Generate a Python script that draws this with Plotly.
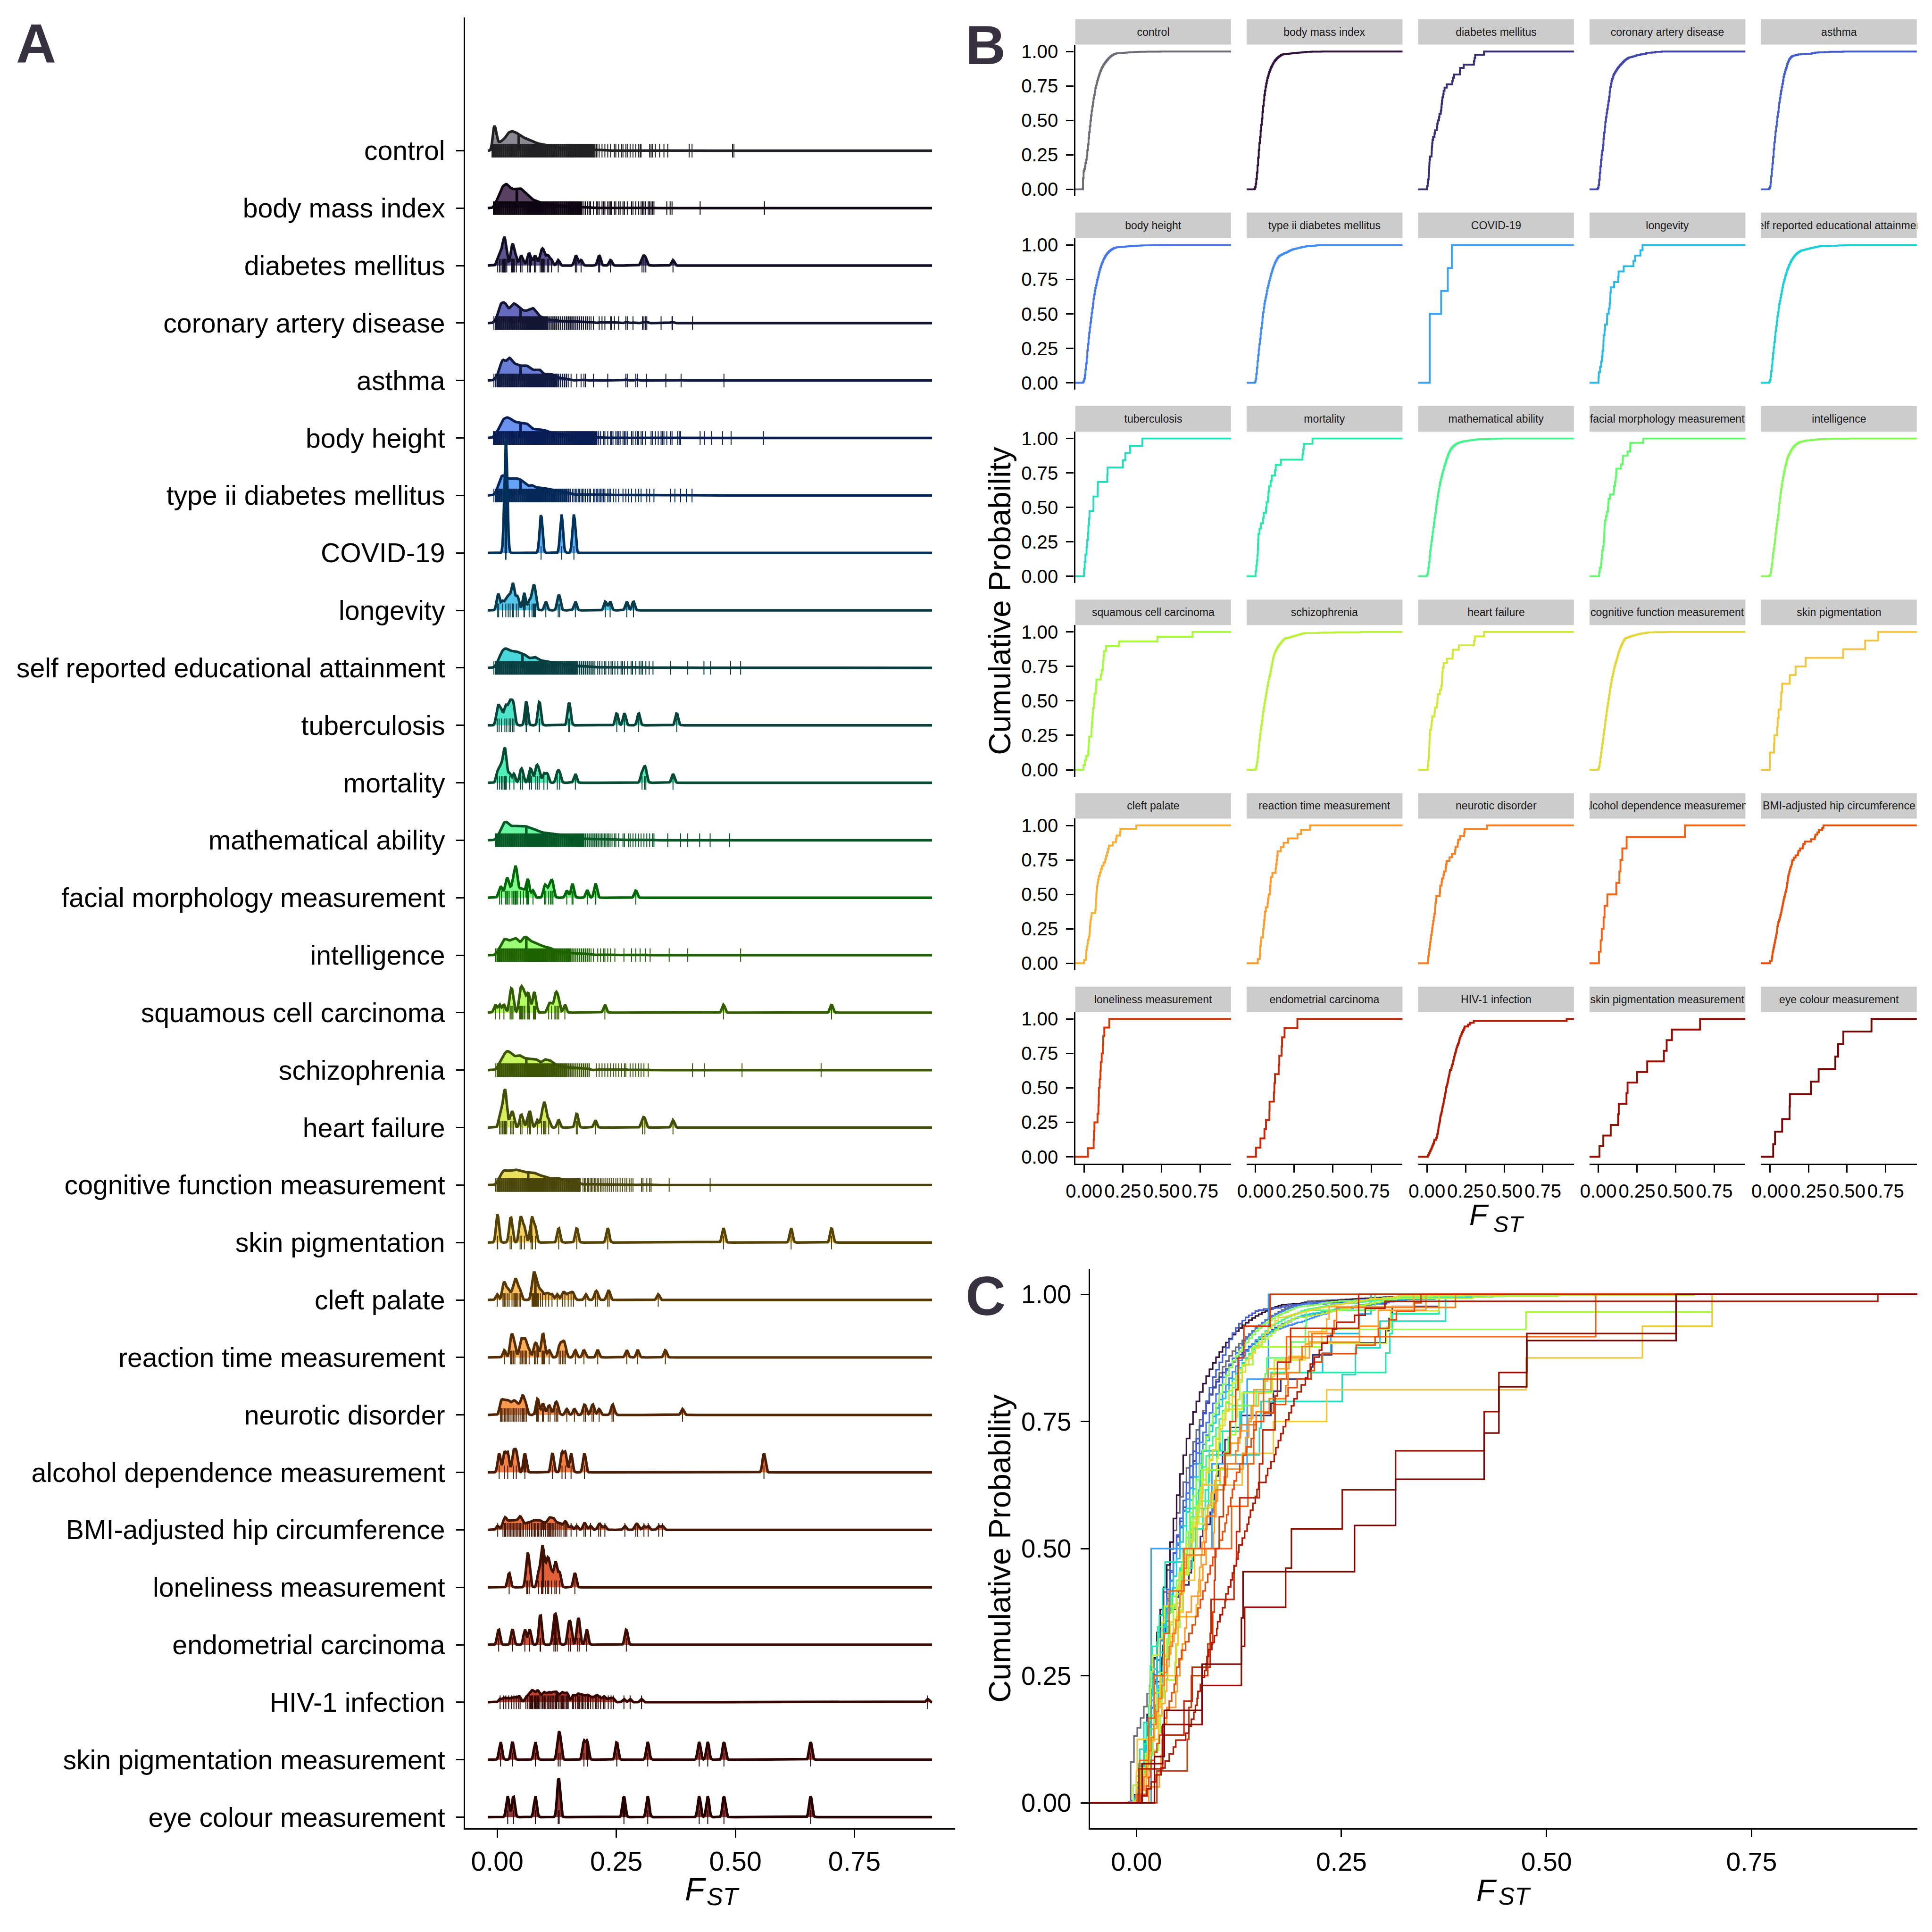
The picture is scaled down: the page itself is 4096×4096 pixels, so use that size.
import colorsys
import numpy as np
import plotly.graph_objects as go

# =============================== DATA ===============================
TRAITS = [
    "control", "body mass index", "diabetes mellitus", "coronary artery disease",
    "asthma", "body height", "type ii diabetes mellitus", "COVID-19", "longevity",
    "self reported educational attainment", "tuberculosis", "mortality",
    "mathematical ability", "facial morphology measurement", "intelligence",
    "squamous cell carcinoma", "schizophrenia", "heart failure",
    "cognitive function measurement", "skin pigmentation", "cleft palate",
    "reaction time measurement", "neurotic disorder", "alcohol dependence measurement",
    "BMI-adjusted hip circumference", "loneliness measurement", "endometrial carcinoma",
    "HIV-1 infection", "skin pigmentation measurement", "eye colour measurement",
]

# shared FST bins for the large traits (counts per bin below)
bin_fst = [-0.007, -0.003, 0.001, 0.005, 0.009, 0.013, 0.017, 0.021, 0.025, 0.029,
           0.033, 0.037, 0.041, 0.045, 0.049, 0.053, 0.057, 0.061, 0.065, 0.069,
           0.073, 0.077, 0.081, 0.085, 0.089, 0.093, 0.097, 0.101, 0.105, 0.109,
           0.113, 0.117, 0.121, 0.125, 0.129, 0.133, 0.137, 0.141, 0.145, 0.149,
           0.153, 0.157, 0.161, 0.165, 0.169, 0.173, 0.177, 0.181, 0.185, 0.189,
           0.193, 0.197, 0.201, 0.205, 0.209]

control_bin_n = [170, 110, 35, 42, 48, 55, 62, 85, 92, 96,
                 96, 93, 88, 80, 74, 68, 63, 60, 57, 54,
                 50, 44, 38, 36, 34, 32, 30, 28, 26, 24,
                 22, 20, 17, 15, 14, 14, 13, 13, 12, 12,
                 11, 11, 10, 9, 9, 8, 7, 7, 6, 5,
                 5, 4, 4, 3, 3]
control_tail = [-0.011, -0.010, -0.009, 0.214, 0.220, 0.226, 0.232, 0.238, 0.246, 0.249,
                0.255, 0.261, 0.264, 0.270, 0.273, 0.279, 0.285, 0.291, 0.297, 0.300,
                0.302, 0.320, 0.323, 0.326, 0.332, 0.341, 0.350, 0.358, 0.403, 0.409,
                0.494, 0.497]

bmi_bin_n = [8, 24, 48, 72, 92, 104, 112, 112, 100, 90,
             88, 88, 90, 93, 92, 84, 74, 66, 56, 48,
             42, 37, 33, 30, 27, 25, 22, 21, 19, 18,
             16, 15, 14, 12, 11, 10, 10, 9, 8, 7,
             7, 6, 6, 5, 5, 4, 4, 0, 0, 0,
             0, 0, 0, 0, 0]
bmi_tail = [0.182, 0.185, 0.190, 0.193, 0.196, 0.202, 0.208, 0.211, 0.214, 0.220,
            0.223, 0.226, 0.232, 0.235, 0.238, 0.240, 0.246, 0.249, 0.255, 0.258,
            0.264, 0.267, 0.273, 0.282, 0.285, 0.291, 0.297, 0.302, 0.305, 0.308,
            0.311, 0.317, 0.320, 0.323, 0.326, 0.329, 0.356, 0.363, 0.367, 0.426, 0.561]

cad_bin_n = [1, 4, 8, 17, 21, 20, 21, 16, 13, 17,
             20, 19, 18, 16, 14, 13, 12, 12, 13, 14,
             15, 15, 11, 8, 7, 6, 5, 4, 4, 3,
             3, 3, 3, 3, 2, 2, 3, 2, 2, 2,
             2, 2, 2, 2, 2, 1, 2, 1, 1, 2,
             1, 1, 0, 0, 0]
cad_tail = [0.202, 0.214, 0.220, 0.226, 0.238, 0.240, 0.246, 0.255, 0.270, 0.273,
            0.285, 0.305, 0.308, 0.311, 0.314, 0.344, 0.367, 0.368, 0.410]

asthma_bin_n = [1, 3, 6, 14, 22, 25, 20, 23, 27, 24,
                20, 19, 18, 17, 17, 16, 17, 17, 16, 14,
                12, 12, 12, 12, 13, 10, 7, 7, 7, 7,
                8, 6, 5, 4, 3, 3, 2, 2, 2, 1]
asthma_tail = [0.155, 0.167, 0.176, 0.182, 0.185, 0.202, 0.232, 0.270, 0.273, 0.291,
               0.294, 0.313, 0.354, 0.386, 0.476]

height_bin_n = [11, 25, 40, 70, 97, 110, 118, 121, 118, 110,
                100, 95, 92, 89, 87, 86, 86, 86, 80, 65,
                55, 52, 50, 49, 48, 48, 47, 44, 38, 35,
                31, 29, 27, 25, 23, 21, 19, 18, 16, 15,
                13, 12, 11, 10, 9, 8, 8, 7, 6, 6,
                5, 5, 4, 4, 3]
height_tail = [0.213, 0.217, 0.223, 0.226, 0.232, 0.238, 0.240, 0.243, 0.249, 0.252,
               0.255, 0.258, 0.264, 0.267, 0.270, 0.273, 0.282, 0.285, 0.291, 0.294,
               0.297, 0.302, 0.305, 0.311, 0.323, 0.326, 0.332, 0.338, 0.344, 0.347,
               0.350, 0.356, 0.364, 0.367, 0.379, 0.382, 0.385, 0.426, 0.435, 0.450,
               0.473, 0.491, 0.559]

t2d_bin_n = [1, 4, 10, 20, 25, 26, 24, 22, 21, 21,
             21, 22, 21, 21, 20, 18, 16, 13, 12, 12,
             14, 11, 10, 10, 10, 10, 9, 9, 8, 8,
             7, 7, 6, 6, 5, 5, 4, 4, 4, 3,
             3]
t2d_tail = [0.158, 0.161, 0.164, 0.167, 0.170, 0.173, 0.176, 0.179, 0.182, 0.185,
            0.190, 0.193, 0.196, 0.202, 0.205, 0.208, 0.211, 0.214, 0.217, 0.220,
            0.223, 0.226, 0.232, 0.235, 0.238, 0.244, 0.249, 0.255, 0.264, 0.270,
            0.276, 0.282, 0.291, 0.297, 0.302, 0.314, 0.320, 0.329, 0.364, 0.373,
            0.385, 0.397, 0.409]

edu_bin_n = [1, 4, 10, 19, 27, 31, 33, 32, 30, 28,
             28, 28, 27, 26, 25, 24, 23, 20, 17, 16,
             17, 19, 18, 15, 13, 12, 12, 12, 11, 10,
             9, 9, 8, 8, 7, 7, 6, 6, 5, 5,
             5, 4, 4, 4, 3, 3, 3, 3, 2, 2,
             2, 2, 2, 1, 0]
edu_tail = [0.211, 0.215, 0.220, 0.225, 0.228, 0.234, 0.239, 0.242, 0.247, 0.253,
            0.260, 0.263, 0.267, 0.274, 0.281, 0.284, 0.291, 0.298, 0.302, 0.305,
            0.312, 0.319, 0.327, 0.364, 0.400, 0.434, 0.448, 0.490, 0.511]

math_bin_n = [0, 4, 10, 20, 34, 44, 48, 46, 40, 36,
              36, 37, 37, 37, 37, 37, 37, 35, 33, 32,
              31, 30, 27, 24, 22, 20, 19, 19, 18, 17,
              17, 16, 16, 16, 15, 14, 13, 12, 11, 10,
              9, 7, 6, 5, 5, 4, 4, 4, 3, 3,
              3, 3, 3, 2, 2]
math_tail = [0.213, 0.216, 0.219, 0.222, 0.225, 0.228, 0.231, 0.234, 0.237, 0.241,
             0.246, 0.249, 0.255, 0.264, 0.267, 0.276, 0.279, 0.285, 0.291, 0.297,
             0.302, 0.308, 0.314, 0.320, 0.326, 0.329, 0.358, 0.385, 0.400, 0.425,
             0.447, 0.488]

iq_bin_n = [0, 2, 6, 12, 19, 25, 27, 25, 23, 24,
            26, 28, 27, 22, 20, 25, 30, 30, 26, 23,
            22, 21, 20, 18, 17, 15, 14, 13, 13, 12,
            11, 9, 7, 6, 6, 6, 6, 5, 5, 4,
            4, 3, 3, 3, 3, 2, 2, 2, 2, 2,
            2, 1, 0, 0, 0]
iq_tail = [0.202, 0.211, 0.217, 0.223, 0.226, 0.232, 0.238, 0.247, 0.266, 0.282,
           0.291, 0.300, 0.311, 0.321, 0.361, 0.400, 0.511]

scz_bin_n = [0, 1, 4, 9, 14, 17, 21, 23, 22, 20,
             18, 16, 17, 18, 17, 15, 14, 14, 13, 13,
             13, 13, 13, 12, 9, 9, 12, 13, 12, 12,
             11, 8, 7, 6, 5, 5, 4, 4, 4, 3,
             3, 3, 3, 3, 3, 3, 2, 2, 2, 2,
             2, 0, 0, 0, 0]
scz_tail = [0.208, 0.214, 0.220, 0.226, 0.232, 0.238, 0.244, 0.249, 0.255, 0.261,
            0.267, 0.270, 0.279, 0.285, 0.291, 0.297, 0.302, 0.308, 0.317, 0.410,
            0.435, 0.514, 0.680]

cog_bin_n = [0, 2, 7, 13, 22, 27, 27, 26, 26, 26,
             27, 28, 28, 27, 25, 25, 24, 23, 23, 23,
             23, 23, 21, 19, 18, 17, 16, 16, 15, 13,
             11, 12, 13, 13, 12, 11, 10, 9, 8, 8,
             8, 7, 7, 6, 6, 5, 0, 0, 0, 0,
             0, 0, 0, 0, 0]
cog_tail = [0.180, 0.183, 0.186, 0.189, 0.192, 0.195, 0.198, 0.201, 0.204, 0.207,
            0.210, 0.213, 0.217, 0.220, 0.224, 0.228, 0.232, 0.236, 0.240, 0.244,
            0.249, 0.253, 0.258, 0.263, 0.268, 0.272, 0.277, 0.281, 0.285, 0.303,
            0.306, 0.314, 0.320, 0.323, 0.361, 0.447]

diabetes_fst = [0.001, 0.005, 0.008, 0.011, 0.013, 0.014, 0.015, 0.016, 0.017, 0.020,
                0.030, 0.031, 0.032, 0.034, 0.036, 0.040, 0.049, 0.052, 0.064, 0.067,
                0.070, 0.078, 0.081, 0.090, 0.093, 0.095, 0.097, 0.100, 0.105, 0.108,
                0.114, 0.128, 0.164, 0.167, 0.176, 0.213, 0.215, 0.238, 0.304, 0.308,
                0.312, 0.369]
covid_fst = [0.018, 0.018, 0.018, 0.092, 0.135, 0.161]
longevity_fst = [0.001, 0.003, 0.011, 0.018, 0.023, 0.027, 0.032, 0.033, 0.034, 0.040,
                 0.044, 0.056, 0.057, 0.067, 0.073, 0.076, 0.078, 0.080, 0.102, 0.128,
                 0.131, 0.164, 0.227, 0.237, 0.272, 0.286]
tb_fst = [0.000, 0.004, 0.009, 0.016, 0.020, 0.025, 0.028, 0.032, 0.035, 0.061,
          0.061, 0.088, 0.089, 0.150, 0.152, 0.251, 0.267, 0.297, 0.377]
mortality_fst = [0.0005, 0.005, 0.009, 0.012, 0.015, 0.016, 0.017, 0.019, 0.026, 0.035,
                 0.049, 0.053, 0.068, 0.072, 0.081, 0.084, 0.088, 0.098, 0.105, 0.126,
                 0.131, 0.164, 0.304, 0.309, 0.312, 0.369]
facial_fst = [0.005, 0.009, 0.017, 0.020, 0.022, 0.025, 0.031, 0.034, 0.037, 0.038,
              0.039, 0.040, 0.043, 0.049, 0.055, 0.062, 0.064, 0.066, 0.075, 0.099,
              0.102, 0.108, 0.112, 0.115, 0.117, 0.146, 0.157, 0.159, 0.189, 0.206,
              0.207, 0.291]
squamous_fst = [-0.004, 0.005, 0.014, 0.027, 0.029, 0.031, 0.033, 0.047, 0.049, 0.051,
                0.053, 0.056, 0.058, 0.063, 0.065, 0.068, 0.076, 0.078, 0.080, 0.108,
                0.114, 0.121, 0.123, 0.126, 0.129, 0.142, 0.226, 0.475, 0.702]
heart_fst = [0.005, 0.008, 0.011, 0.014, 0.015, 0.016, 0.017, 0.018, 0.020, 0.028,
             0.031, 0.034, 0.049, 0.052, 0.064, 0.068, 0.070, 0.084, 0.093, 0.097,
             0.098, 0.100, 0.102, 0.108, 0.129, 0.166, 0.168, 0.206, 0.305, 0.310, 0.369]
skinpig_fst = [0.000, 0.001, 0.027, 0.030, 0.048, 0.051, 0.057, 0.071, 0.074, 0.080,
               0.129, 0.167, 0.232, 0.475, 0.617, 0.702]
cleft_fst = [0.000, 0.012, 0.014, 0.015, 0.018, 0.022, 0.025, 0.031, 0.035, 0.037,
             0.038, 0.040, 0.042, 0.046, 0.049, 0.073, 0.075, 0.076, 0.077, 0.079,
             0.080, 0.082, 0.084, 0.087, 0.091, 0.095, 0.102, 0.108, 0.115, 0.126,
             0.137, 0.142, 0.149, 0.155, 0.160, 0.186, 0.206, 0.210, 0.232, 0.235, 0.338]
reaction_fst = [0.015, 0.028, 0.030, 0.031, 0.034, 0.037, 0.048, 0.050, 0.053, 0.056,
                0.059, 0.061, 0.067, 0.078, 0.081, 0.085, 0.094, 0.095, 0.097, 0.099,
                0.109, 0.130, 0.133, 0.137, 0.140, 0.143, 0.164, 0.182, 0.211, 0.272,
                0.295, 0.353]
neurotic_fst = [0.007, 0.009, 0.012, 0.015, 0.018, 0.021, 0.024, 0.027, 0.031, 0.034,
                0.037, 0.040, 0.044, 0.048, 0.052, 0.053, 0.055, 0.058, 0.061, 0.083,
                0.085, 0.086, 0.095, 0.097, 0.107, 0.111, 0.121, 0.124, 0.127, 0.146,
                0.162, 0.182, 0.185, 0.199, 0.202, 0.214, 0.241, 0.244, 0.389]
alcohol_fst = [0.004, 0.015, 0.022, 0.034, 0.040, 0.058, 0.116, 0.136, 0.143, 0.155,
               0.183, 0.560]
hip_fst = [0.001, 0.012, 0.015, 0.017, 0.018, 0.022, 0.025, 0.028, 0.031, 0.034,
           0.037, 0.040, 0.043, 0.046, 0.048, 0.049, 0.052, 0.055, 0.060, 0.064,
           0.068, 0.072, 0.075, 0.078, 0.081, 0.084, 0.087, 0.090, 0.093, 0.097,
           0.101, 0.105, 0.108, 0.110, 0.112, 0.115, 0.117, 0.119, 0.122, 0.126,
           0.130, 0.134, 0.140, 0.143, 0.146, 0.155, 0.167, 0.182, 0.185, 0.196,
           0.213, 0.217, 0.226, 0.268, 0.291, 0.295, 0.308, 0.317, 0.339, 0.347]
lonely_fst = [0.025, 0.062, 0.064, 0.067, 0.087, 0.093, 0.095, 0.096, 0.101, 0.106,
              0.108, 0.114, 0.121, 0.124, 0.131, 0.163]
endometrial_fst = [0.003, 0.032, 0.058, 0.068, 0.090, 0.091, 0.119, 0.122, 0.126, 0.150,
                   0.154, 0.169, 0.172, 0.188, 0.271]
hiv_fst = [0.006, 0.013, 0.018, 0.024, 0.030, 0.035, 0.040, 0.045, 0.048, 0.060,
           0.064, 0.067, 0.070, 0.072, 0.074, 0.075, 0.078, 0.080, 0.083, 0.085,
           0.086, 0.088, 0.092, 0.095, 0.098, 0.099, 0.102, 0.105, 0.108, 0.109,
           0.112, 0.115, 0.117, 0.119, 0.122, 0.124, 0.125, 0.129, 0.132, 0.135,
           0.137, 0.139, 0.142, 0.145, 0.147, 0.149, 0.158, 0.160, 0.164, 0.168,
           0.170, 0.173, 0.176, 0.179, 0.182, 0.186, 0.189, 0.192, 0.196, 0.201,
           0.206, 0.209, 0.212, 0.217, 0.223, 0.226, 0.233, 0.239, 0.244, 0.266,
           0.279, 0.303, 0.904]
skinmeas_fst = [0.007, 0.032, 0.080, 0.128, 0.132, 0.182, 0.189, 0.251, 0.316, 0.424,
                0.442, 0.476, 0.658]
eye_fst = [0.022, 0.034, 0.080, 0.128, 0.130, 0.266, 0.316, 0.424, 0.442, 0.476, 0.658]


def big(bin_n, tail):
    n = list(bin_n) + [0] * (len(bin_fst) - len(bin_n))
    v = [b for b, c in zip(bin_fst, n) if c > 0] + list(tail)
    w = [c for c in n if c > 0] + [1] * len(tail)
    return v, w


def small(vals):
    return list(vals), [1] * len(vals)


DATA = {
    "control": big(control_bin_n, control_tail),
    "body mass index": big(bmi_bin_n, bmi_tail),
    "diabetes mellitus": small(diabetes_fst),
    "coronary artery disease": big(cad_bin_n, cad_tail),
    "asthma": big(asthma_bin_n, asthma_tail),
    "body height": big(height_bin_n, height_tail),
    "type ii diabetes mellitus": big(t2d_bin_n, t2d_tail),
    "COVID-19": small(covid_fst),
    "longevity": small(longevity_fst),
    "self reported educational attainment": big(edu_bin_n, edu_tail),
    "tuberculosis": small(tb_fst),
    "mortality": small(mortality_fst),
    "mathematical ability": big(math_bin_n, math_tail),
    "facial morphology measurement": small(facial_fst),
    "intelligence": big(iq_bin_n, iq_tail),
    "squamous cell carcinoma": small(squamous_fst),
    "schizophrenia": big(scz_bin_n, scz_tail),
    "heart failure": small(heart_fst),
    "cognitive function measurement": big(cog_bin_n, cog_tail),
    "skin pigmentation": small(skinpig_fst),
    "cleft palate": small(cleft_fst),
    "reaction time measurement": small(reaction_fst),
    "neurotic disorder": small(neurotic_fst),
    "alcohol dependence measurement": small(alcohol_fst),
    "BMI-adjusted hip circumference": small(hip_fst),
    "loneliness measurement": small(lonely_fst),
    "endometrial carcinoma": small(endometrial_fst),
    "HIV-1 infection": small(hiv_fst),
    "skin pigmentation measurement": small(skinmeas_fst),
    "eye colour measurement": small(eye_fst),
}

# =============================== STYLE ===============================
W = 4096
S = W / 4800.0
FONT = "Liberation Sans, Arial, Helvetica, sans-serif"
TURBO = ["#30123b", "#4145ab", "#4675ed", "#39a2fc", "#1bcfd4", "#24eca6", "#61fc6c",
         "#a4fc3b", "#d1e834", "#f3c63a", "#fe9b2d", "#f36315", "#d93806", "#b11901",
         "#7a0402"]
CONTROL_RGB = (110, 107, 120)
BW = 0.003            # kernel bandwidth
NGRID = 512
RIDGE_SCALE = 2.0     # tallest ridge = 2 row spacings
RUG_HALF = 17 / 143.3
LW_AX = 3.9 * S
TICKLEN = 19 * S
LW_RIDGE = 6.4 * S
LW_B = 4.6 * S
LW_C = 3.8 * S
RUG_W = (2.0, 2.7, 4.3)


def hex2rgb(h):
    h = h.lstrip("#")
    return tuple(int(h[i:i + 2], 16) for i in (0, 2, 4))


def turbo(t):
    pos = t * (len(TURBO) - 1)
    i = min(int(pos), len(TURBO) - 2)
    f = pos - i
    a, b = hex2rgb(TURBO[i]), hex2rgb(TURBO[i + 1])
    return tuple(a[j] + (b[j] - a[j]) * f for j in range(3))


def base_rgb(i):
    return CONTROL_RGB if i == 0 else turbo((i - 1) / 28.0)


def darken(rgb, f=0.3):
    h, l, s = colorsys.rgb_to_hls(*[c / 255.0 for c in rgb])
    r, g, b = colorsys.hls_to_rgb(h, l * f, s)
    return (r * 255, g * 255, b * 255)


def css(rgb, a=None):
    r, g, b = [int(round(c)) for c in rgb]
    return f"rgb({r},{g},{b})" if a is None else f"rgba({r},{g},{b},{a})"


def fx(X):
    return X / 4800.0


def fy(Y):
    return 1.0 - Y / 4800.0


# =============================== STATS ===============================
all_v = np.concatenate([np.asarray(DATA[t][0], float) for t in TRAITS])
grid = np.linspace(all_v.min() - 3 * BW, all_v.max() + 3 * BW, NGRID)


def kde(v, w):
    v = np.asarray(v, float)
    w = np.asarray(w, float)
    w = w / w.sum()
    d = (grid[:, None] - v[None, :]) / BW
    return (np.exp(-0.5 * d * d) * w[None, :]).sum(1) / (BW * np.sqrt(2 * np.pi))


def agg(v, w):
    u, inv = np.unique(np.asarray(v, float), return_inverse=True)
    cw = np.bincount(inv, weights=np.asarray(w, float))
    return u, cw


dens = {t: kde(*DATA[t]) for t in TRAITS}
gmax = max(d.max() for d in dens.values())

fig = go.Figure()
NT = len(TRAITS)

# =============================== PANEL A ===============================
for i, t in enumerate(TRAITS):
    base = NT - i
    h = dens[t] / gmax * RIDGE_SCALE
    rgb = base_rgb(i)
    fillc = css(rgb, 0.8)
    linec = css(darken(rgb))
    fig.add_trace(go.Scatter(
        x=np.r_[grid, grid[::-1]], y=np.r_[base + h, np.full(NGRID, float(base))],
        fill="toself", fillcolor=fillc, mode="lines",
        line=dict(width=0, color="rgba(0,0,0,0)"), hoverinfo="skip",
        xaxis="x", yaxis="y"))
    fig.add_trace(go.Scatter(x=grid, y=base + h, mode="lines",
                             line=dict(color=linec, width=LW_RIDGE),
                             hoverinfo="skip", xaxis="x", yaxis="y"))
    u, cw = agg(*DATA[t])
    F = np.cumsum(cw) / cw.sum()
    med = u[np.searchsorted(F, 0.5)]
    hm = np.interp(med, grid, h)
    fig.add_trace(go.Scatter(x=[med, med], y=[base, base + hm], mode="lines",
                             line=dict(color=linec, width=LW_RIDGE),
                             hoverinfo="skip", xaxis="x", yaxis="y"))
    for (lo_c, hi_c), lw in zip(((1, 1), (2, 3), (4, 1e9)), RUG_W):
        sel = u[(cw >= lo_c) & (cw <= hi_c)]
        if len(sel) == 0:
            continue
        xs, ys = [], []
        for v in sel:
            xs += [v, v, None]
            ys += [base - RUG_HALF, base + RUG_HALF, None]
        fig.add_trace(go.Scatter(x=xs, y=ys, mode="lines",
                                 line=dict(color=linec, width=lw),
                                 hoverinfo="skip", xaxis="x", yaxis="y"))

# =============================== PANEL B / C ===============================
for i, t in enumerate(TRAITS):
    u, cw = agg(*DATA[t])
    F = np.cumsum(cw) / cw.sum()
    x = np.r_[-1.0, u, 2.0]
    y = np.r_[0.0, F, 1.0]
    col = css(base_rgb(i))
    n = i + 2
    fig.add_trace(go.Scatter(x=x, y=y, mode="lines", line=dict(color=col, width=LW_B, shape="hv"),
                             hoverinfo="skip", xaxis=f"x{n}", yaxis=f"y{n}"))
for i, t in enumerate(TRAITS):
    u, cw = agg(*DATA[t])
    F = np.cumsum(cw) / cw.sum()
    x = np.r_[-1.0, u, 2.0]
    y = np.r_[0.0, F, 1.0]
    col = css(base_rgb(i))
    fig.add_trace(go.Scatter(x=x, y=y, mode="lines", line=dict(color=col, width=LW_C, shape="hv"),
                             hoverinfo="skip", xaxis="x32", yaxis="y32"))


# =============================== LAYOUT ===============================
def ax(size, show, standoff=0):
    return dict(showgrid=False, zeroline=False, showline=show, linecolor="black",
                linewidth=LW_AX, ticks="outside" if show else "", ticklen=TICKLEN,
                tickwidth=LW_AX, tickcolor="black", showticklabels=show,
                ticklabelstandoff=standoff,
                tickfont=dict(family=FONT, size=size, color="black"), fixedrange=True)


FST_TICKS = [0, 0.25, 0.5, 0.75]
FST_TEXT = ["0.00", "0.25", "0.50", "0.75"]
P_TICKS = [0, 0.25, 0.5, 0.75, 1.0]
P_TEXT = ["0.00", "0.25", "0.50", "0.75", "1.00"]

layout = dict(width=W, height=W, margin=dict(l=0, r=0, t=0, b=0, pad=0),
              paper_bgcolor="white", plot_bgcolor="white", showlegend=False,
              font=dict(family=FONT, color="black"), shapes=[], annotations=[])

# panel A axes
xa = ax(67 * S, True, 2)
xa.update(domain=[fx(1138), fx(2360.6)], range=[-0.0672, 0.961], tickvals=FST_TICKS,
          ticktext=FST_TEXT, anchor="y")
ya = ax(67 * S, True, 12)
ya.update(domain=[fy(4551), fy(35)], range=[0.805, 32.32],
          tickvals=[NT - i for i in range(NT)], ticktext=TRAITS, anchor="x")
layout["xaxis"] = xa
layout["yaxis"] = ya

# panel B facets
for i, t in enumerate(TRAITS):
    r, c = divmod(i, 5)
    n = i + 2
    x0 = 2661 + 428 * c
    x1 = x0 + 389
    top = 103 + 482.5 * r
    bot = top + 378
    xb = ax(47 * S, r == 5, 4)
    xb.update(domain=[fx(x0), fx(x1)], range=[-0.057, 0.951], tickvals=FST_TICKS,
              ticktext=FST_TEXT, anchor=f"y{n}")
    yb = ax(47 * S, c == 0, 9)
    yb.update(domain=[fy(bot), fy(top)], range=[-0.05, 1.05], tickvals=P_TICKS,
              ticktext=P_TEXT, anchor=f"x{n}")
    layout[f"xaxis{n}"] = xb
    layout[f"yaxis{n}"] = yb
    layout["shapes"].append(dict(type="rect", xref="paper", yref="paper",
                                 x0=fx(x0), x1=fx(x1), y0=fy(top), y1=fy(top - 63.5),
                                 fillcolor="#CCCCCC", line=dict(width=0), layer="below"))
    layout["annotations"].append(dict(
        x=fx((x0 + x1) / 2), y=fy(top - 31.75), xref="paper", yref="paper",
        text=t, showarrow=False, xanchor="center", yanchor="middle", align="center",
        width=389 * S, font=dict(family=FONT, size=27 * S, color="#1A1A1A")))

# panel C
xc = ax(65 * S, True, 4)
xc.update(domain=[fx(2697.6), fx(4763)], range=[-0.0567, 0.952], tickvals=FST_TICKS,
          ticktext=FST_TEXT, anchor="y32")
yc = ax(64 * S, True, 9)
yc.update(domain=[fy(4550.6), fy(3156)], range=[-0.05, 1.05], tickvals=P_TICKS,
          ticktext=P_TEXT, anchor="x32")
layout["xaxis32"] = xc
layout["yaxis32"] = yc


def ann(X, Y, text, size, angle=0, bold=False, italic=False, color="black"):
    if bold:
        text = f"<b>{text}</b>"
    if italic:
        text = f"<i>{text}</i>"
    layout["annotations"].append(dict(
        x=fx(X), y=fy(Y), xref="paper", yref="paper", text=text,
        showarrow=False, xanchor="center", yanchor="middle", textangle=angle,
        font=dict(family=FONT, size=size * S, color=color)))


# F_ST axis titles: italic F with a smaller italic ST subscript
for (fxc, fyc, fsz), (sxc, syc, ssz) in (
        ((1713, 4702, 80), (1782, 4721, 61)),
        ((3670, 3021, 74), (3743, 3044, 57)),
        ((3688, 4705, 77), (3758, 4721, 60))):
    ann(fxc, fyc, "F", fsz, italic=True)
    ann(sxc, syc, "ST", ssz, italic=True)

ann(2473, 1490, "Cumulative Probability", 77, angle=-90)
ann(2473, 3853, "Cumulative Probability", 77, angle=-90)
ann(67, 100, "A", 138, bold=True, color="#383140")
ann(2437, 103, "B", 138, bold=True, color="#383140")
ann(2437, 3223, "C", 138, bold=True, color="#383140")

fig.update_layout(**layout)
fig.update_traces(showlegend=False)
fig.write_html("out.html", include_plotlyjs=True, config={"displayModeBar": False})
